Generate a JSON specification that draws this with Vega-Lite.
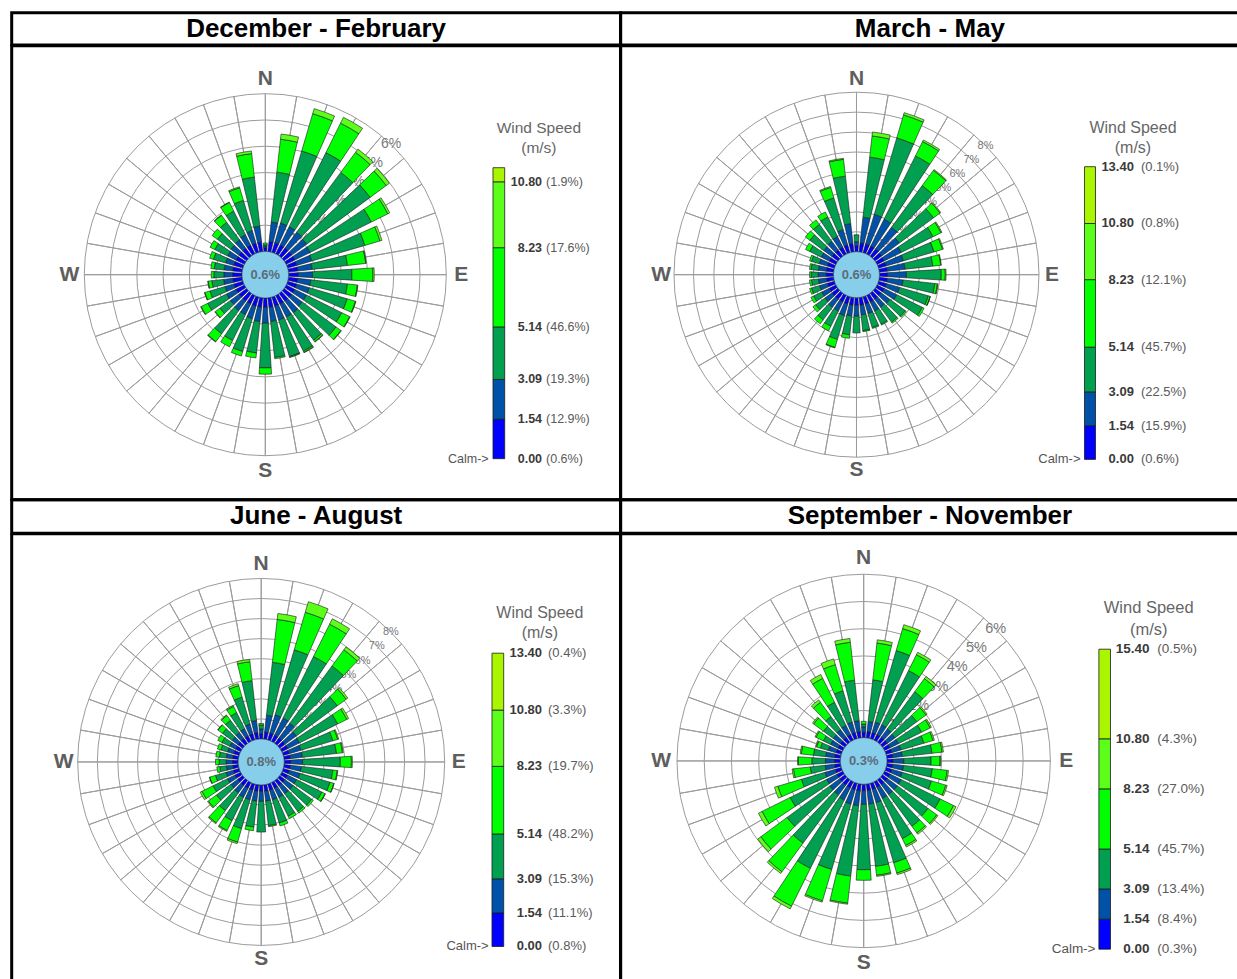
{
"$schema":"https://vega.github.io/schema/vega-lite/v6.json",
"background":"#ffffff",
"padding":{"left":9.7,"top":10.7,"right":0,"bottom":0},
"columns":2,
"align":"each",
"spacing":0,
"bounds":"flush",
"resolve":{"scale":{"radius":"independent","theta":"independent","color":"independent"}},
"config":{"font":"Liberation Sans","view":{"stroke":null},"concat":{"spacing":0}},
"datasets":{
"titles":[{"p":1,"t":"December - February"},{"p":2,"t":"March - May"},{"p":3,"t":"June - August"},{"p":4,"t":"September - November"}],
"calm":[{"p":1,"t":"0.6%"},{"p":2,"t":"0.6%"},{"p":3,"t":"0.8%"},{"p":4,"t":"0.3%"}],
"compass":[{"t":"N","a":0},{"t":"E","a":90},{"t":"S","a":180},{"t":"W","a":270}],
"dirs":[{"d":0},{"d":10},{"d":20},{"d":30},{"d":40},{"d":50},{"d":60},{"d":70},{"d":80},{"d":90},{"d":100},{"d":110},{"d":120},{"d":130},{"d":140},{"d":150},{"d":160},{"d":170},{"d":180},{"d":190},{"d":200},{"d":210},{"d":220},{"d":230},{"d":240},{"d":250},{"d":260},{"d":270},{"d":280},{"d":290},{"d":300},{"d":310},{"d":320},{"d":330},{"d":340},{"d":350}],
"rings":[
{"p":1,"k":1,"t":"1%"},{"p":1,"k":2,"t":"2%"},{"p":1,"k":3,"t":"3%"},{"p":1,"k":4,"t":"4%"},{"p":1,"k":5,"t":"5%"},{"p":1,"k":6,"t":"6%"},
{"p":2,"k":1,"t":"1%"},{"p":2,"k":2,"t":"2%"},{"p":2,"k":3,"t":"3%"},{"p":2,"k":4,"t":"4%"},{"p":2,"k":5,"t":"5%"},{"p":2,"k":6,"t":"6%"},{"p":2,"k":7,"t":"7%"},{"p":2,"k":8,"t":"8%"},
{"p":3,"k":1,"t":"1%"},{"p":3,"k":2,"t":"2%"},{"p":3,"k":3,"t":"3%"},{"p":3,"k":4,"t":"4%"},{"p":3,"k":5,"t":"5%"},{"p":3,"k":6,"t":"6%"},{"p":3,"k":7,"t":"7%"},{"p":3,"k":8,"t":"8%"},
{"p":4,"k":1,"t":"1%"},{"p":4,"k":2,"t":"2%"},{"p":4,"k":3,"t":"3%"},{"p":4,"k":4,"t":"4%"},{"p":4,"k":5,"t":"5%"},{"p":4,"k":6,"t":"6%"}],
"legend":[
{"p":1,"cls":"c0","lo":0,"hi":1.54},{"p":1,"cls":"c1","lo":1.54,"hi":3.09},{"p":1,"cls":"c2","lo":3.09,"hi":5.14},{"p":1,"cls":"c3","lo":5.14,"hi":8.23},{"p":1,"cls":"c4","lo":8.23,"hi":10.8},{"p":1,"cls":"c5","lo":10.8,"hi":11.35},
{"p":2,"cls":"c0","lo":0,"hi":1.54},{"p":2,"cls":"c1","lo":1.54,"hi":3.09},{"p":2,"cls":"c2","lo":3.09,"hi":5.14},{"p":2,"cls":"c3","lo":5.14,"hi":8.23},{"p":2,"cls":"c4","lo":8.23,"hi":10.8},{"p":2,"cls":"c5","lo":10.8,"hi":13.4},
{"p":3,"cls":"c0","lo":0,"hi":1.54},{"p":3,"cls":"c1","lo":1.54,"hi":3.09},{"p":3,"cls":"c2","lo":3.09,"hi":5.14},{"p":3,"cls":"c3","lo":5.14,"hi":8.23},{"p":3,"cls":"c4","lo":8.23,"hi":10.8},{"p":3,"cls":"c5","lo":10.8,"hi":13.4},
{"p":4,"cls":"c0","lo":0,"hi":1.54},{"p":4,"cls":"c1","lo":1.54,"hi":3.09},{"p":4,"cls":"c2","lo":3.09,"hi":5.14},{"p":4,"cls":"c3","lo":5.14,"hi":8.23},{"p":4,"cls":"c4","lo":8.23,"hi":10.8},{"p":4,"cls":"c5","lo":10.8,"hi":15.4}],
"ticks":[
{"p":1,"v":0,"t":"(0.6%)"},{"p":1,"v":1.54,"t":"(12.9%)"},{"p":1,"v":3.09,"t":"(19.3%)"},{"p":1,"v":5.14,"t":"(46.6%)"},{"p":1,"v":8.23,"t":"(17.6%)"},{"p":1,"v":10.8,"t":"(1.9%)"},
{"p":2,"v":0,"t":"(0.6%)"},{"p":2,"v":1.54,"t":"(15.9%)"},{"p":2,"v":3.09,"t":"(22.5%)"},{"p":2,"v":5.14,"t":"(45.7%)"},{"p":2,"v":8.23,"t":"(12.1%)"},{"p":2,"v":10.8,"t":"(0.8%)"},{"p":2,"v":13.4,"t":"(0.1%)"},
{"p":3,"v":0,"t":"(0.8%)"},{"p":3,"v":1.54,"t":"(11.1%)"},{"p":3,"v":3.09,"t":"(15.3%)"},{"p":3,"v":5.14,"t":"(48.2%)"},{"p":3,"v":8.23,"t":"(19.7%)"},{"p":3,"v":10.8,"t":"(3.3%)"},{"p":3,"v":13.4,"t":"(0.4%)"},
{"p":4,"v":0,"t":"(0.3%)"},{"p":4,"v":1.54,"t":"(8.4%)"},{"p":4,"v":3.09,"t":"(13.4%)"},{"p":4,"v":5.14,"t":"(45.7%)"},{"p":4,"v":8.23,"t":"(27.0%)"},{"p":4,"v":10.8,"t":"(4.3%)"},{"p":4,"v":15.4,"t":"(0.5%)"}],
"rose":[
{"p":1,"d":0,"c0":0.14,"c1":0.06,"c2":0.05,"c3":0.07,"c4":0},
{"p":1,"d":10,"c0":0.38,"c1":0.75,"c2":1.91,"c3":1.26,"c4":0.2},
{"p":1,"d":20,"c0":0.38,"c1":0.78,"c2":2.86,"c3":1.48,"c4":0.2},
{"p":1,"d":30,"c0":0.38,"c1":0.77,"c2":3.15,"c3":1.25,"c4":0.25},
{"p":1,"d":40,"c0":0.37,"c1":0.75,"c2":2.83,"c3":0.95,"c4":0.15},
{"p":1,"d":50,"c0":0.37,"c1":0.7,"c2":3.0,"c3":0.76,"c4":0.15},
{"p":1,"d":60,"c0":0.37,"c1":0.65,"c2":2.6,"c3":0.7,"c4":0.08},
{"p":1,"d":70,"c0":0.36,"c1":0.6,"c2":2.1,"c3":0.6,"c4":0.08},
{"p":1,"d":80,"c0":0.36,"c1":0.55,"c2":1.35,"c3":0.7,"c4":0.02},
{"p":1,"d":90,"c0":0.36,"c1":0.55,"c2":1.5,"c3":0.8,"c4":0.05},
{"p":1,"d":100,"c0":0.36,"c1":0.5,"c2":1.4,"c3":0.38,"c4":0.02},
{"p":1,"d":110,"c0":0.36,"c1":0.5,"c2":1.5,"c3":0.33,"c4":0.02},
{"p":1,"d":120,"c0":0.36,"c1":0.5,"c2":1.5,"c3":0.34,"c4":0.02},
{"p":1,"d":130,"c0":0.36,"c1":0.5,"c2":1.6,"c3":0.23,"c4":0.02},
{"p":1,"d":140,"c0":0.36,"c1":0.55,"c2":1.3,"c3":0.07,"c4":0.02},
{"p":1,"d":150,"c0":0.36,"c1":0.55,"c2":1.45,"c3":0.05,"c4":0.02},
{"p":1,"d":160,"c0":0.36,"c1":0.55,"c2":1.45,"c3":0.02,"c4":0.02},
{"p":1,"d":170,"c0":0.36,"c1":0.55,"c2":1.37,"c3":0.05,"c4":0},
{"p":1,"d":180,"c0":0.36,"c1":0.6,"c2":1.7,"c3":0.24,"c4":0},
{"p":1,"d":190,"c0":0.36,"c1":0.55,"c2":1.2,"c3":0.19,"c4":0},
{"p":1,"d":200,"c0":0.36,"c1":0.5,"c2":1.3,"c3":0.18,"c4":0},
{"p":1,"d":210,"c0":0.36,"c1":0.45,"c2":1.1,"c3":0.27,"c4":0},
{"p":1,"d":220,"c0":0.36,"c1":0.45,"c2":1.1,"c3":0.37,"c4":0.02},
{"p":1,"d":230,"c0":0.36,"c1":0.4,"c2":0.5,"c3":0.22,"c4":0.02},
{"p":1,"d":240,"c0":0.36,"c1":0.4,"c2":0.8,"c3":0.28,"c4":0.02},
{"p":1,"d":250,"c0":0.36,"c1":0.35,"c2":0.6,"c3":0.2,"c4":0.02},
{"p":1,"d":260,"c0":0.36,"c1":0.35,"c2":0.45,"c3":0.14,"c4":0.02},
{"p":1,"d":270,"c0":0.36,"c1":0.33,"c2":0.38,"c3":0.1,"c4":0},
{"p":1,"d":280,"c0":0.36,"c1":0.33,"c2":0.38,"c3":0.13,"c4":0},
{"p":1,"d":290,"c0":0.36,"c1":0.33,"c2":0.48,"c3":0.15,"c4":0},
{"p":1,"d":300,"c0":0.36,"c1":0.35,"c2":0.55,"c3":0.2,"c4":0},
{"p":1,"d":310,"c0":0.36,"c1":0.38,"c2":0.64,"c3":0.25,"c4":0},
{"p":1,"d":320,"c0":0.36,"c1":0.4,"c2":0.83,"c3":0.33,"c4":0.02},
{"p":1,"d":330,"c0":0.36,"c1":0.45,"c2":1.0,"c3":0.37,"c4":0.02},
{"p":1,"d":340,"c0":0.36,"c1":0.5,"c2":1.2,"c3":0.5,"c4":0.04},
{"p":1,"d":350,"c0":0.37,"c1":0.6,"c2":1.88,"c3":0.9,"c4":0.1},
{"p":2,"d":0,"c0":0.3,"c1":0.2,"c2":0.35,"c3":0,"c4":0},
{"p":2,"d":10,"c0":0.45,"c1":1.3,"c2":3.03,"c3":1.07,"c4":0.2},
{"p":2,"d":20,"c0":0.45,"c1":1.55,"c2":4.0,"c3":1.2,"c4":0.12},
{"p":2,"d":30,"c0":0.45,"c1":1.5,"c2":3.55,"c3":0.8,"c4":0.09},
{"p":2,"d":40,"c0":0.45,"c1":1.35,"c2":2.6,"c3":0.95,"c4":0.05},
{"p":2,"d":50,"c0":0.42,"c1":1.1,"c2":2.13,"c3":0.4,"c4":0.05},
{"p":2,"d":60,"c0":0.4,"c1":0.95,"c2":1.78,"c3":0.45,"c4":0.05},
{"p":2,"d":70,"c0":0.4,"c1":0.9,"c2":1.6,"c3":0.44,"c4":0.05},
{"p":2,"d":80,"c0":0.4,"c1":0.9,"c2":1.4,"c3":0.4,"c4":0.03},
{"p":2,"d":90,"c0":0.4,"c1":0.95,"c2":1.75,"c3":0.2,"c4":0.04},
{"p":2,"d":100,"c0":0.4,"c1":0.8,"c2":1.6,"c3":0.13,"c4":0.03},
{"p":2,"d":110,"c0":0.4,"c1":0.7,"c2":1.5,"c3":0.1,"c4":0.01},
{"p":2,"d":120,"c0":0.4,"c1":0.7,"c2":1.43,"c3":0.1,"c4":0},
{"p":2,"d":130,"c0":0.38,"c1":0.55,"c2":0.95,"c3":0.07,"c4":0},
{"p":2,"d":140,"c0":0.38,"c1":0.5,"c2":0.92,"c3":0.07,"c4":0},
{"p":2,"d":150,"c0":0.38,"c1":0.5,"c2":0.74,"c3":0.05,"c4":0},
{"p":2,"d":160,"c0":0.38,"c1":0.5,"c2":0.73,"c3":0.05,"c4":0},
{"p":2,"d":170,"c0":0.38,"c1":0.5,"c2":0.79,"c3":0.05,"c4":0},
{"p":2,"d":180,"c0":0.38,"c1":0.55,"c2":0.84,"c3":0,"c4":0},
{"p":2,"d":190,"c0":0.38,"c1":0.55,"c2":0.95,"c3":0.18,"c4":0},
{"p":2,"d":200,"c0":0.38,"c1":0.6,"c2":1.25,"c3":0.42,"c4":0.03},
{"p":2,"d":210,"c0":0.38,"c1":0.5,"c2":0.86,"c3":0.25,"c4":0},
{"p":2,"d":220,"c0":0.38,"c1":0.5,"c2":0.78,"c3":0.25,"c4":0},
{"p":2,"d":230,"c0":0.37,"c1":0.45,"c2":0.57,"c3":0.17,"c4":0},
{"p":2,"d":240,"c0":0.37,"c1":0.42,"c2":0.46,"c3":0.15,"c4":0},
{"p":2,"d":250,"c0":0.37,"c1":0.4,"c2":0.43,"c3":0.1,"c4":0},
{"p":2,"d":260,"c0":0.37,"c1":0.4,"c2":0.35,"c3":0.1,"c4":0},
{"p":2,"d":270,"c0":0.37,"c1":0.4,"c2":0.35,"c3":0.08,"c4":0},
{"p":2,"d":280,"c0":0.37,"c1":0.4,"c2":0.37,"c3":0.08,"c4":0},
{"p":2,"d":290,"c0":0.37,"c1":0.42,"c2":0.41,"c3":0.1,"c4":0},
{"p":2,"d":300,"c0":0.37,"c1":0.45,"c2":0.65,"c3":0.23,"c4":0},
{"p":2,"d":310,"c0":0.38,"c1":0.5,"c2":0.87,"c3":0.28,"c4":0},
{"p":2,"d":320,"c0":0.38,"c1":0.55,"c2":1.05,"c3":0.28,"c4":0},
{"p":2,"d":330,"c0":0.38,"c1":0.6,"c2":1.1,"c3":0.28,"c4":0},
{"p":2,"d":340,"c0":0.4,"c1":0.8,"c2":1.66,"c3":0.55,"c4":0.05},
{"p":2,"d":350,"c0":0.42,"c1":1.0,"c2":2.4,"c3":0.85,"c4":0.05},
{"p":3,"d":0,"c0":0.25,"c1":0.25,"c2":0.2,"c3":0.07,"c4":0},
{"p":3,"d":10,"c0":0.35,"c1":0.85,"c2":2.65,"c3":2.15,"c4":0.3},
{"p":3,"d":20,"c0":0.35,"c1":0.95,"c2":3.38,"c3":1.95,"c4":0.55},
{"p":3,"d":30,"c0":0.35,"c1":0.95,"c2":3.42,"c3":1.8,"c4":0.3},
{"p":3,"d":40,"c0":0.35,"c1":0.9,"c2":3.55,"c3":1.0,"c4":0.18},
{"p":3,"d":50,"c0":0.33,"c1":0.7,"c2":2.54,"c3":0.55,"c4":0.1},
{"p":3,"d":60,"c0":0.33,"c1":0.65,"c2":2.13,"c3":0.51,"c4":0.1},
{"p":3,"d":70,"c0":0.32,"c1":0.6,"c2":1.66,"c3":0.25,"c4":0.05},
{"p":3,"d":80,"c0":0.32,"c1":0.6,"c2":1.71,"c3":0.3,"c4":0.04},
{"p":3,"d":90,"c0":0.32,"c1":0.6,"c2":1.88,"c3":0.55,"c4":0.05},
{"p":3,"d":100,"c0":0.32,"c1":0.55,"c2":1.58,"c3":0.22,"c4":0.03},
{"p":3,"d":110,"c0":0.32,"c1":0.55,"c2":1.56,"c3":0.2,"c4":0.02},
{"p":3,"d":120,"c0":0.32,"c1":0.5,"c2":1.41,"c3":0.18,"c4":0.02},
{"p":3,"d":130,"c0":0.32,"c1":0.5,"c2":1.16,"c3":0.1,"c4":0},
{"p":3,"d":140,"c0":0.32,"c1":0.5,"c2":1.1,"c3":0.1,"c4":0},
{"p":3,"d":150,"c0":0.32,"c1":0.5,"c2":1.05,"c3":0.13,"c4":0},
{"p":3,"d":160,"c0":0.32,"c1":0.5,"c2":1.2,"c3":0.16,"c4":0},
{"p":3,"d":170,"c0":0.32,"c1":0.5,"c2":1.23,"c3":0.05,"c4":0},
{"p":3,"d":180,"c0":0.32,"c1":0.5,"c2":1.53,"c3":0,"c4":0},
{"p":3,"d":190,"c0":0.32,"c1":0.5,"c2":1.3,"c3":0.18,"c4":0},
{"p":3,"d":200,"c0":0.32,"c1":0.5,"c2":1.5,"c3":0.7,"c4":0.08},
{"p":3,"d":210,"c0":0.32,"c1":0.5,"c2":1.3,"c3":0.55,"c4":0.05},
{"p":3,"d":220,"c0":0.32,"c1":0.45,"c2":1.1,"c3":0.76,"c4":0.05},
{"p":3,"d":230,"c0":0.31,"c1":0.42,"c2":0.9,"c3":0.5,"c4":0.05},
{"p":3,"d":240,"c0":0.31,"c1":0.42,"c2":0.8,"c3":0.62,"c4":0.1},
{"p":3,"d":250,"c0":0.3,"c1":0.38,"c2":0.55,"c3":0.3,"c4":0.02},
{"p":3,"d":260,"c0":0.28,"c1":0.32,"c2":0.33,"c3":0.15,"c4":0},
{"p":3,"d":270,"c0":0.28,"c1":0.32,"c2":0.35,"c3":0.18,"c4":0},
{"p":3,"d":280,"c0":0.28,"c1":0.32,"c2":0.35,"c3":0.18,"c4":0},
{"p":3,"d":290,"c0":0.28,"c1":0.32,"c2":0.35,"c3":0.18,"c4":0},
{"p":3,"d":300,"c0":0.28,"c1":0.33,"c2":0.43,"c3":0.23,"c4":0},
{"p":3,"d":310,"c0":0.3,"c1":0.35,"c2":0.6,"c3":0.28,"c4":0.02},
{"p":3,"d":320,"c0":0.3,"c1":0.38,"c2":0.75,"c3":0.3,"c4":0.04},
{"p":3,"d":330,"c0":0.3,"c1":0.4,"c2":0.9,"c3":0.35,"c4":0.05},
{"p":3,"d":340,"c0":0.32,"c1":0.5,"c2":1.4,"c3":0.6,"c4":0.1},
{"p":3,"d":350,"c0":0.33,"c1":0.6,"c2":2.0,"c3":0.95,"c4":0.12},
{"p":4,"d":0,"c0":0.2,"c1":0.2,"c2":0.1,"c3":0.1,"c4":0},
{"p":4,"d":10,"c0":0.23,"c1":0.37,"c2":1.54,"c3":1.36,"c4":0.12},
{"p":4,"d":20,"c0":0.23,"c1":0.4,"c2":2.74,"c3":0.84,"c4":0.15},
{"p":4,"d":30,"c0":0.23,"c1":0.4,"c2":2.22,"c3":0.65,"c4":0.1},
{"p":4,"d":40,"c0":0.23,"c1":0.37,"c2":1.7,"c3":0.6,"c4":0.1},
{"p":4,"d":50,"c0":0.22,"c1":0.35,"c2":1.0,"c3":0.42,"c4":0.05},
{"p":4,"d":60,"c0":0.22,"c1":0.35,"c2":0.95,"c3":0.35,"c4":0.05},
{"p":4,"d":70,"c0":0.22,"c1":0.35,"c2":0.88,"c3":0.35,"c4":0.05},
{"p":4,"d":80,"c0":0.22,"c1":0.35,"c2":1.1,"c3":0.37,"c4":0.05},
{"p":4,"d":90,"c0":0.22,"c1":0.4,"c2":1.0,"c3":0.33,"c4":0.03},
{"p":4,"d":100,"c0":0.22,"c1":0.4,"c2":1.06,"c3":0.55,"c4":0.05},
{"p":4,"d":110,"c0":0.22,"c1":0.4,"c2":1.12,"c3":0.55,"c4":0.05},
{"p":4,"d":120,"c0":0.23,"c1":0.45,"c2":1.6,"c3":0.55,"c4":0.1},
{"p":4,"d":130,"c0":0.23,"c1":0.45,"c2":1.4,"c3":0.4,"c4":0.05},
{"p":4,"d":140,"c0":0.23,"c1":0.45,"c2":1.45,"c3":0.3,"c4":0.06},
{"p":4,"d":150,"c0":0.23,"c1":0.45,"c2":1.65,"c3":0.28,"c4":0.06},
{"p":4,"d":160,"c0":0.24,"c1":0.5,"c2":2.3,"c3":0.4,"c4":0.06},
{"p":4,"d":170,"c0":0.24,"c1":0.5,"c2":2.3,"c3":0.33,"c4":0.04},
{"p":4,"d":180,"c0":0.24,"c1":0.5,"c2":2.4,"c3":0.39,"c4":0},
{"p":4,"d":190,"c0":0.25,"c1":0.55,"c2":2.6,"c3":1.0,"c4":0.04},
{"p":4,"d":200,"c0":0.25,"c1":0.55,"c2":2.5,"c3":1.2,"c4":0.05},
{"p":4,"d":210,"c0":0.25,"c1":0.5,"c2":2.8,"c3":1.55,"c4":0.11},
{"p":4,"d":220,"c0":0.25,"c1":0.45,"c2":2.2,"c3":1.3,"c4":0.08},
{"p":4,"d":230,"c0":0.24,"c1":0.45,"c2":1.95,"c3":1.2,"c4":0.14},
{"p":4,"d":240,"c0":0.24,"c1":0.42,"c2":1.5,"c3":1.15,"c4":0.15},
{"p":4,"d":250,"c0":0.23,"c1":0.4,"c2":0.9,"c3":0.9,"c4":0.13},
{"p":4,"d":260,"c0":0.22,"c1":0.35,"c2":0.55,"c3":0.62,"c4":0.05},
{"p":4,"d":270,"c0":0.22,"c1":0.33,"c2":0.5,"c3":0.5,"c4":0.02},
{"p":4,"d":280,"c0":0.22,"c1":0.33,"c2":0.45,"c3":0.45,"c4":0.04},
{"p":4,"d":290,"c0":0.2,"c1":0.3,"c2":0.3,"c3":0.15,"c4":0.03},
{"p":4,"d":300,"c0":0.2,"c1":0.3,"c2":0.3,"c3":0.3,"c4":0.04},
{"p":4,"d":310,"c0":0.21,"c1":0.32,"c2":0.45,"c3":0.45,"c4":0.05},
{"p":4,"d":320,"c0":0.22,"c1":0.35,"c2":0.6,"c3":0.65,"c4":0.11},
{"p":4,"d":330,"c0":0.22,"c1":0.38,"c2":0.95,"c3":0.98,"c4":0.16},
{"p":4,"d":340,"c0":0.23,"c1":0.4,"c2":1.2,"c3":1.0,"c4":0.22},
{"p":4,"d":350,"c0":0.23,"c1":0.4,"c2":1.5,"c3":1.4,"c4":0.14}]
},
"concat":[
 {"width":608.8,"height":32.3,"view":{"stroke":"#000000","strokeWidth":3},"data":{"name":"titles"},"transform":[{"filter":"datum.p == 1"}],"mark":{"type":"text","fontSize":26,"fontWeight":"bold","color":"#000000","dy":0},"encoding":{"text":{"field":"t","type":"nominal"}}},
 {"width":618.5,"height":32.3,"view":{"stroke":"#000000","strokeWidth":3,"strokeDash":[618.5,32.3,650.8,0]},"data":{"name":"titles"},"transform":[{"filter":"datum.p == 2"}],"mark":{"type":"text","fontSize":26,"fontWeight":"bold","color":"#000000","dy":0},"encoding":{"text":{"field":"t","type":"nominal"}}},
 {"width":608.8,"height":454,"view":{"stroke":"#000000","strokeWidth":3},
  "layer":[
   {"data":{"name":"rings"},"transform":[{"filter":"datum.p == 1"}],"mark":{"type":"arc","filled":false,"color":"#9b9b9b","strokeWidth":1,"xOffset":-50.8,"yOffset":2},
    "encoding":{"theta":{"datum":0,"type":"quantitative","scale":{"type":"linear","domain":[0,360],"range":[0,6.283185307179586]}},"theta2":{"datum":360},"radius":{"field":"k","type":"quantitative","stack":null,"scale":{"type":"linear","domain":[0,6],"range":[23.3,181],"zero":false}}}},
   {"data":{"name":"dirs"},"mark":{"type":"arc","filled":false,"color":"#9b9b9b","strokeWidth":1,"xOffset":-50.8,"yOffset":2},
    "encoding":{"theta":{"field":"d","type":"quantitative","stack":null,"scale":{"type":"linear","domain":[0,360],"range":[0,6.283185307179586]}},"theta2":{"field":"d"},"radius":{"datum":6,"type":"quantitative","scale":{"type":"linear","domain":[0,6],"range":[23.3,181],"zero":false}},"radius2":{"datum":0}}},
   {"data":{"name":"rings"},"transform":[{"filter":"datum.p == 1"}],"mark":{"type":"text","fontSize":14,"color":"#7a7a7a","xOffset":-50.8,"yOffset":2},
    "encoding":{"theta":{"datum":44,"type":"quantitative","scale":{"type":"linear","domain":[0,360],"range":[0,6.283185307179586]}},"radius":{"field":"k","type":"quantitative","stack":null,"scale":{"type":"linear","domain":[0,6],"range":[23.3,181],"zero":false}},"text":{"field":"t","type":"nominal"}}},
   {"data":{"name":"rose"},"transform":[{"filter":"datum.p == 1"},{"fold":["c0","c1","c2","c3","c4"],"as":["cls","v"]},{"filter":"datum.v > 0"},{"stack":"v","groupby":["d"],"sort":[{"field":"cls","order":"ascending"}],"as":["r0","r1"]}],
    "mark":{"type":"arc","stroke":"#1a1a1a","strokeWidth":0.6,"thetaOffset":-0.0628,"theta2Offset":0.0628,"xOffset":-50.8,"yOffset":2},
    "encoding":{"theta":{"field":"d","type":"quantitative","stack":null,"scale":{"type":"linear","domain":[0,360],"range":[0,6.283185307179586]}},"theta2":{"field":"d"},"radius":{"field":"r1","type":"quantitative","stack":null,"scale":{"type":"linear","domain":[0,6],"range":[23.3,181],"zero":false}},"radius2":{"field":"r0"},
     "color":{"field":"cls","type":"nominal","legend":null,"scale":{"domain":["c0","c1","c2","c3","c4","c5"],"range":["#0000ff","#0052a8","#00a050","#00ff00","#5cff1a","#aaf500"]}}}},
   {"data":{"name":"calm"},"transform":[{"filter":"datum.p == 1"}],"mark":{"type":"arc","filled":true,"fill":"#87ceeb","fillOpacity":1,"stroke":"#2c4a6e","strokeWidth":0.6,"xOffset":-50.8,"yOffset":2},
    "encoding":{"theta":{"datum":0,"type":"quantitative","scale":{"type":"linear","domain":[0,360],"range":[0,6.283185307179586]}},"theta2":{"datum":360},"radius":{"datum":0,"type":"quantitative","scale":{"type":"linear","domain":[0,6],"range":[23.3,181],"zero":false}},"radius2":{"value":0}}},
   {"data":{"name":"calm"},"transform":[{"filter":"datum.p == 1"}],"mark":{"type":"text","fontSize":13,"fontWeight":"bold","color":"#5c6b7a","xOffset":-50.8,"yOffset":2},"encoding":{"text":{"field":"t","type":"nominal"}}},
   {"data":{"name":"compass"},"mark":{"type":"text","fontSize":21,"fontWeight":"bold","color":"#5e5e5e","xOffset":-50.8,"yOffset":2},
    "encoding":{"theta":{"field":"a","type":"quantitative","stack":null,"scale":{"type":"linear","domain":[0,360],"range":[0,6.283185307179586]}},"radius":{"datum":6.57,"type":"quantitative","scale":{"type":"linear","domain":[0,6],"range":[23.3,181],"zero":false}},"text":{"field":"t","type":"nominal"}}},
   {"data":{"name":"legend"},"transform":[{"filter":"datum.p == 1"}],"mark":{"type":"rect","stroke":"#1a1a1a","strokeWidth":0.8},
    "encoding":{"x":{"datum":"key","type":"nominal","axis":null,"scale":{"type":"band","domain":["key"],"range":[481.3,493],"paddingInner":0,"paddingOuter":0}},"y":{"field":"lo","type":"quantitative","axis":null,"scale":{"domain":[0,11.35],"range":[413,122],"zero":false}},"y2":{"field":"hi"},
     "color":{"field":"cls","type":"nominal","legend":null,"scale":{"domain":["c0","c1","c2","c3","c4","c5"],"range":["#0000ff","#0052a8","#00a050","#00ff00","#5cff1a","#aaf500"]}}}},
   {"data":{"name":"ticks"},"transform":[{"filter":"datum.p == 1"}],"mark":{"type":"text","align":"right","fontSize":12.5,"fontWeight":"bold","color":"#3a3a3a","dx":43.2},
    "encoding":{"x":{"datum":"key","type":"nominal","axis":null,"scale":{"type":"band","domain":["key"],"range":[481.3,493],"paddingInner":0,"paddingOuter":0}},"y":{"field":"v","type":"quantitative","axis":null,"scale":{"domain":[0,11.35],"range":[413,122],"zero":false}},"text":{"field":"v","type":"quantitative","format":".2f"}}},
   {"data":{"name":"ticks"},"transform":[{"filter":"datum.p == 1"}],"mark":{"type":"text","align":"left","fontSize":12.5,"color":"#5a5a5a","dx":47.2},
    "encoding":{"x":{"datum":"key","type":"nominal","axis":null,"scale":{"type":"band","domain":["key"],"range":[481.3,493],"paddingInner":0,"paddingOuter":0}},"y":{"field":"v","type":"quantitative","axis":null,"scale":{"domain":[0,11.35],"range":[413,122],"zero":false}},"text":{"field":"t","type":"nominal"}}},
   {"data":{"name":"calm"},"transform":[{"filter":"datum.p == 1"}],"mark":{"type":"text","align":"right","fontSize":12.5,"color":"#555555","dx":-10.2},
    "encoding":{"x":{"datum":"key","type":"nominal","axis":null,"scale":{"type":"band","domain":["key"],"range":[481.3,493],"paddingInner":0,"paddingOuter":0}},"y":{"datum":0,"type":"quantitative","axis":null,"scale":{"domain":[0,11.35],"range":[413,122],"zero":false}},"text":{"value":"Calm->"}}},
   {"data":{"name":"calm"},"transform":[{"filter":"datum.p == 1"}],"mark":{"type":"text","align":"center","fontSize":15.5,"color":"#666666","lineHeight":20,"dx":40,"dy":-40},
    "encoding":{"x":{"datum":"key","type":"nominal","axis":null,"scale":{"type":"band","domain":["key"],"range":[481.3,493],"paddingInner":0,"paddingOuter":0}},"y":{"datum":11.35,"type":"quantitative","axis":null,"scale":{"domain":[0,11.35],"range":[413,122],"zero":false}},"text":{"value":["Wind Speed","(m/s)"]}}}
  ]},
 {"width":618.5,"height":454,"view":{"stroke":"#000000","strokeWidth":3,"strokeDash":[618.5,454,1072.5,0]},
  "layer":[
   {"data":{"name":"rings"},"transform":[{"filter":"datum.p == 2"}],"mark":{"type":"arc","filled":false,"color":"#9b9b9b","strokeWidth":1,"xOffset":-73.45,"yOffset":2},
    "encoding":{"theta":{"datum":0,"type":"quantitative","scale":{"type":"linear","domain":[0,360],"range":[0,6.283185307179586]}},"theta2":{"datum":360},"radius":{"field":"k","type":"quantitative","stack":null,"scale":{"type":"linear","domain":[0,8],"range":[23,182.5],"zero":false}}}},
   {"data":{"name":"dirs"},"mark":{"type":"arc","filled":false,"color":"#9b9b9b","strokeWidth":1,"xOffset":-73.45,"yOffset":2},
    "encoding":{"theta":{"field":"d","type":"quantitative","stack":null,"scale":{"type":"linear","domain":[0,360],"range":[0,6.283185307179586]}},"theta2":{"field":"d"},"radius":{"datum":8,"type":"quantitative","scale":{"type":"linear","domain":[0,8],"range":[23,182.5],"zero":false}},"radius2":{"datum":0}}},
   {"data":{"name":"rings"},"transform":[{"filter":"datum.p == 2"}],"mark":{"type":"text","fontSize":11,"color":"#7a7a7a","xOffset":-73.45,"yOffset":2},
    "encoding":{"theta":{"datum":45,"type":"quantitative","scale":{"type":"linear","domain":[0,360],"range":[0,6.283185307179586]}},"radius":{"field":"k","type":"quantitative","stack":null,"scale":{"type":"linear","domain":[0,8],"range":[23,182.5],"zero":false}},"text":{"field":"t","type":"nominal"}}},
   {"data":{"name":"rose"},"transform":[{"filter":"datum.p == 2"},{"fold":["c0","c1","c2","c3","c4"],"as":["cls","v"]},{"filter":"datum.v > 0"},{"stack":"v","groupby":["d"],"sort":[{"field":"cls","order":"ascending"}],"as":["r0","r1"]}],
    "mark":{"type":"arc","stroke":"#1a1a1a","strokeWidth":0.6,"thetaOffset":-0.0628,"theta2Offset":0.0628,"xOffset":-73.45,"yOffset":2},
    "encoding":{"theta":{"field":"d","type":"quantitative","stack":null,"scale":{"type":"linear","domain":[0,360],"range":[0,6.283185307179586]}},"theta2":{"field":"d"},"radius":{"field":"r1","type":"quantitative","stack":null,"scale":{"type":"linear","domain":[0,8],"range":[23,182.5],"zero":false}},"radius2":{"field":"r0"},
     "color":{"field":"cls","type":"nominal","legend":null,"scale":{"domain":["c0","c1","c2","c3","c4","c5"],"range":["#0000ff","#0052a8","#00a050","#00ff00","#5cff1a","#aaf500"]}}}},
   {"data":{"name":"calm"},"transform":[{"filter":"datum.p == 2"}],"mark":{"type":"arc","filled":true,"fill":"#87ceeb","fillOpacity":1,"stroke":"#2c4a6e","strokeWidth":0.6,"xOffset":-73.45,"yOffset":2},
    "encoding":{"theta":{"datum":0,"type":"quantitative","scale":{"type":"linear","domain":[0,360],"range":[0,6.283185307179586]}},"theta2":{"datum":360},"radius":{"datum":0,"type":"quantitative","scale":{"type":"linear","domain":[0,8],"range":[23,182.5],"zero":false}},"radius2":{"value":0}}},
   {"data":{"name":"calm"},"transform":[{"filter":"datum.p == 2"}],"mark":{"type":"text","fontSize":13,"fontWeight":"bold","color":"#5c6b7a","xOffset":-73.45,"yOffset":2},"encoding":{"text":{"field":"t","type":"nominal"}}},
   {"data":{"name":"compass"},"mark":{"type":"text","fontSize":21,"fontWeight":"bold","color":"#5e5e5e","xOffset":-73.45,"yOffset":2},
    "encoding":{"theta":{"field":"a","type":"quantitative","stack":null,"scale":{"type":"linear","domain":[0,360],"range":[0,6.283185307179586]}},"radius":{"datum":8.65,"type":"quantitative","scale":{"type":"linear","domain":[0,8],"range":[23,182.5],"zero":false}},"text":{"field":"t","type":"nominal"}}},
   {"data":{"name":"legend"},"transform":[{"filter":"datum.p == 2"}],"mark":{"type":"rect","stroke":"#1a1a1a","strokeWidth":0.8},
    "encoding":{"x":{"datum":"key","type":"nominal","axis":null,"scale":{"type":"band","domain":["key"],"range":[463.8,474.8],"paddingInner":0,"paddingOuter":0}},"y":{"field":"lo","type":"quantitative","axis":null,"scale":{"domain":[0,13.4],"range":[413.7,121],"zero":false}},"y2":{"field":"hi"},
     "color":{"field":"cls","type":"nominal","legend":null,"scale":{"domain":["c0","c1","c2","c3","c4","c5"],"range":["#0000ff","#0052a8","#00a050","#00ff00","#5cff1a","#aaf500"]}}}},
   {"data":{"name":"ticks"},"transform":[{"filter":"datum.p == 2"}],"mark":{"type":"text","align":"right","fontSize":13,"fontWeight":"bold","color":"#3a3a3a","dx":43.9},
    "encoding":{"x":{"datum":"key","type":"nominal","axis":null,"scale":{"type":"band","domain":["key"],"range":[463.8,474.8],"paddingInner":0,"paddingOuter":0}},"y":{"field":"v","type":"quantitative","axis":null,"scale":{"domain":[0,13.4],"range":[413.7,121],"zero":false}},"text":{"field":"v","type":"quantitative","format":".2f"}}},
   {"data":{"name":"ticks"},"transform":[{"filter":"datum.p == 2"}],"mark":{"type":"text","align":"left","fontSize":13,"color":"#5a5a5a","dx":50.9},
    "encoding":{"x":{"datum":"key","type":"nominal","axis":null,"scale":{"type":"band","domain":["key"],"range":[463.8,474.8],"paddingInner":0,"paddingOuter":0}},"y":{"field":"v","type":"quantitative","axis":null,"scale":{"domain":[0,13.4],"range":[413.7,121],"zero":false}},"text":{"field":"t","type":"nominal"}}},
   {"data":{"name":"calm"},"transform":[{"filter":"datum.p == 2"}],"mark":{"type":"text","align":"right","fontSize":13,"color":"#555555","dx":-9.5},
    "encoding":{"x":{"datum":"key","type":"nominal","axis":null,"scale":{"type":"band","domain":["key"],"range":[463.8,474.8],"paddingInner":0,"paddingOuter":0}},"y":{"datum":0,"type":"quantitative","axis":null,"scale":{"domain":[0,13.4],"range":[413.7,121],"zero":false}},"text":{"value":"Calm->"}}},
   {"data":{"name":"calm"},"transform":[{"filter":"datum.p == 2"}],"mark":{"type":"text","align":"center","fontSize":16,"color":"#666666","lineHeight":20,"dx":43,"dy":-39},
    "encoding":{"x":{"datum":"key","type":"nominal","axis":null,"scale":{"type":"band","domain":["key"],"range":[463.8,474.8],"paddingInner":0,"paddingOuter":0}},"y":{"datum":13.4,"type":"quantitative","axis":null,"scale":{"domain":[0,13.4],"range":[413.7,121],"zero":false}},"text":{"value":["Wind Speed","(m/s)"]}}}
  ]},
 {"width":608.8,"height":33.5,"view":{"stroke":"#000000","strokeWidth":3},"data":{"name":"titles"},"transform":[{"filter":"datum.p == 3"}],"mark":{"type":"text","fontSize":26,"fontWeight":"bold","color":"#000000","dy":0},"encoding":{"text":{"field":"t","type":"nominal"}}},
 {"width":618.5,"height":33.5,"view":{"stroke":"#000000","strokeWidth":3,"strokeDash":[618.5,33.5,652,0]},"data":{"name":"titles"},"transform":[{"filter":"datum.p == 4"}],"mark":{"type":"text","fontSize":26,"fontWeight":"bold","color":"#000000","dy":0},"encoding":{"text":{"field":"t","type":"nominal"}}},
 {"width":608.8,"height":448.5,"view":{"stroke":"#000000","strokeWidth":3,"strokeDash":[1057.3,608.8,448.5,0]},
  "layer":[
   {"data":{"name":"rings"},"transform":[{"filter":"datum.p == 3"}],"mark":{"type":"arc","filled":false,"color":"#9b9b9b","strokeWidth":1,"xOffset":-54.9,"yOffset":4},
    "encoding":{"theta":{"datum":0,"type":"quantitative","scale":{"type":"linear","domain":[0,360],"range":[0,6.283185307179586]}},"theta2":{"datum":360},"radius":{"field":"k","type":"quantitative","stack":null,"scale":{"type":"linear","domain":[0,8],"range":[23,183.5],"zero":false}}}},
   {"data":{"name":"dirs"},"mark":{"type":"arc","filled":false,"color":"#9b9b9b","strokeWidth":1,"xOffset":-54.9,"yOffset":4},
    "encoding":{"theta":{"field":"d","type":"quantitative","stack":null,"scale":{"type":"linear","domain":[0,360],"range":[0,6.283185307179586]}},"theta2":{"field":"d"},"radius":{"datum":8,"type":"quantitative","scale":{"type":"linear","domain":[0,8],"range":[23,183.5],"zero":false}},"radius2":{"datum":0}}},
   {"data":{"name":"rings"},"transform":[{"filter":"datum.p == 3"}],"mark":{"type":"text","fontSize":11,"color":"#7a7a7a","xOffset":-54.9,"yOffset":4},
    "encoding":{"theta":{"datum":45,"type":"quantitative","scale":{"type":"linear","domain":[0,360],"range":[0,6.283185307179586]}},"radius":{"field":"k","type":"quantitative","stack":null,"scale":{"type":"linear","domain":[0,8],"range":[23,183.5],"zero":false}},"text":{"field":"t","type":"nominal"}}},
   {"data":{"name":"rose"},"transform":[{"filter":"datum.p == 3"},{"fold":["c0","c1","c2","c3","c4"],"as":["cls","v"]},{"filter":"datum.v > 0"},{"stack":"v","groupby":["d"],"sort":[{"field":"cls","order":"ascending"}],"as":["r0","r1"]}],
    "mark":{"type":"arc","stroke":"#1a1a1a","strokeWidth":0.6,"thetaOffset":-0.0628,"theta2Offset":0.0628,"xOffset":-54.9,"yOffset":4},
    "encoding":{"theta":{"field":"d","type":"quantitative","stack":null,"scale":{"type":"linear","domain":[0,360],"range":[0,6.283185307179586]}},"theta2":{"field":"d"},"radius":{"field":"r1","type":"quantitative","stack":null,"scale":{"type":"linear","domain":[0,8],"range":[23,183.5],"zero":false}},"radius2":{"field":"r0"},
     "color":{"field":"cls","type":"nominal","legend":null,"scale":{"domain":["c0","c1","c2","c3","c4","c5"],"range":["#0000ff","#0052a8","#00a050","#00ff00","#5cff1a","#aaf500"]}}}},
   {"data":{"name":"calm"},"transform":[{"filter":"datum.p == 3"}],"mark":{"type":"arc","filled":true,"fill":"#87ceeb","fillOpacity":1,"stroke":"#2c4a6e","strokeWidth":0.6,"xOffset":-54.9,"yOffset":4},
    "encoding":{"theta":{"datum":0,"type":"quantitative","scale":{"type":"linear","domain":[0,360],"range":[0,6.283185307179586]}},"theta2":{"datum":360},"radius":{"datum":0,"type":"quantitative","scale":{"type":"linear","domain":[0,8],"range":[23,183.5],"zero":false}},"radius2":{"value":0}}},
   {"data":{"name":"calm"},"transform":[{"filter":"datum.p == 3"}],"mark":{"type":"text","fontSize":13,"fontWeight":"bold","color":"#5c6b7a","xOffset":-54.9,"yOffset":4},"encoding":{"text":{"field":"t","type":"nominal"}}},
   {"data":{"name":"compass"},"mark":{"type":"text","fontSize":21,"fontWeight":"bold","color":"#5e5e5e","xOffset":-54.9,"yOffset":4},
    "encoding":{"theta":{"field":"a","type":"quantitative","stack":null,"scale":{"type":"linear","domain":[0,360],"range":[0,6.283185307179586]}},"radius":{"datum":8.7,"type":"quantitative","scale":{"type":"linear","domain":[0,8],"range":[23,183.5],"zero":false}},"text":{"field":"t","type":"nominal"}}},
   {"data":{"name":"legend"},"transform":[{"filter":"datum.p == 3"}],"mark":{"type":"rect","stroke":"#1a1a1a","strokeWidth":0.8},
    "encoding":{"x":{"datum":"key","type":"nominal","axis":null,"scale":{"type":"band","domain":["key"],"range":[480.3,492],"paddingInner":0,"paddingOuter":0}},"y":{"field":"lo","type":"quantitative","axis":null,"scale":{"domain":[0,13.4],"range":[412.8,119.5],"zero":false}},"y2":{"field":"hi"},
     "color":{"field":"cls","type":"nominal","legend":null,"scale":{"domain":["c0","c1","c2","c3","c4","c5"],"range":["#0000ff","#0052a8","#00a050","#00ff00","#5cff1a","#aaf500"]}}}},
   {"data":{"name":"ticks"},"transform":[{"filter":"datum.p == 3"}],"mark":{"type":"text","align":"right","fontSize":13,"fontWeight":"bold","color":"#3a3a3a","dx":44.2},
    "encoding":{"x":{"datum":"key","type":"nominal","axis":null,"scale":{"type":"band","domain":["key"],"range":[480.3,492],"paddingInner":0,"paddingOuter":0}},"y":{"field":"v","type":"quantitative","axis":null,"scale":{"domain":[0,13.4],"range":[412.8,119.5],"zero":false}},"text":{"field":"v","type":"quantitative","format":".2f"}}},
   {"data":{"name":"ticks"},"transform":[{"filter":"datum.p == 3"}],"mark":{"type":"text","align":"left","fontSize":13,"color":"#5a5a5a","dx":50.2},
    "encoding":{"x":{"datum":"key","type":"nominal","axis":null,"scale":{"type":"band","domain":["key"],"range":[480.3,492],"paddingInner":0,"paddingOuter":0}},"y":{"field":"v","type":"quantitative","axis":null,"scale":{"domain":[0,13.4],"range":[412.8,119.5],"zero":false}},"text":{"field":"t","type":"nominal"}}},
   {"data":{"name":"calm"},"transform":[{"filter":"datum.p == 3"}],"mark":{"type":"text","align":"right","fontSize":13,"color":"#555555","dx":-9.2},
    "encoding":{"x":{"datum":"key","type":"nominal","axis":null,"scale":{"type":"band","domain":["key"],"range":[480.3,492],"paddingInner":0,"paddingOuter":0}},"y":{"datum":0,"type":"quantitative","axis":null,"scale":{"domain":[0,13.4],"range":[412.8,119.5],"zero":false}},"text":{"value":"Calm->"}}},
   {"data":{"name":"calm"},"transform":[{"filter":"datum.p == 3"}],"mark":{"type":"text","align":"center","fontSize":16,"color":"#666666","lineHeight":20,"dx":42,"dy":-40},
    "encoding":{"x":{"datum":"key","type":"nominal","axis":null,"scale":{"type":"band","domain":["key"],"range":[480.3,492],"paddingInner":0,"paddingOuter":0}},"y":{"datum":13.4,"type":"quantitative","axis":null,"scale":{"domain":[0,13.4],"range":[412.8,119.5],"zero":false}},"text":{"value":["Wind Speed","(m/s)"]}}}
  ]},
 {"width":618.5,"height":448.5,"view":{"stroke":"#000000","strokeWidth":3,"strokeDash":[618.5,1067,448.5,0]},
  "layer":[
   {"data":{"name":"rings"},"transform":[{"filter":"datum.p == 4"}],"mark":{"type":"arc","filled":false,"color":"#9b9b9b","strokeWidth":1,"xOffset":-66.25,"yOffset":3},
    "encoding":{"theta":{"datum":0,"type":"quantitative","scale":{"type":"linear","domain":[0,360],"range":[0,6.283185307179586]}},"theta2":{"datum":360},"radius":{"field":"k","type":"quantitative","stack":null,"scale":{"type":"linear","domain":[0,6],"range":[23.3,186.7],"zero":false}}}},
   {"data":{"name":"dirs"},"mark":{"type":"arc","filled":false,"color":"#9b9b9b","strokeWidth":1,"xOffset":-66.25,"yOffset":3},
    "encoding":{"theta":{"field":"d","type":"quantitative","stack":null,"scale":{"type":"linear","domain":[0,360],"range":[0,6.283185307179586]}},"theta2":{"field":"d"},"radius":{"datum":6,"type":"quantitative","scale":{"type":"linear","domain":[0,6],"range":[23.3,186.7],"zero":false}},"radius2":{"datum":0}}},
   {"data":{"name":"rings"},"transform":[{"filter":"datum.p == 4"}],"mark":{"type":"text","fontSize":14.5,"color":"#7a7a7a","xOffset":-66.25,"yOffset":3},
    "encoding":{"theta":{"datum":45,"type":"quantitative","scale":{"type":"linear","domain":[0,360],"range":[0,6.283185307179586]}},"radius":{"field":"k","type":"quantitative","stack":null,"scale":{"type":"linear","domain":[0,6],"range":[23.3,186.7],"zero":false}},"text":{"field":"t","type":"nominal"}}},
   {"data":{"name":"rose"},"transform":[{"filter":"datum.p == 4"},{"fold":["c0","c1","c2","c3","c4"],"as":["cls","v"]},{"filter":"datum.v > 0"},{"stack":"v","groupby":["d"],"sort":[{"field":"cls","order":"ascending"}],"as":["r0","r1"]}],
    "mark":{"type":"arc","stroke":"#1a1a1a","strokeWidth":0.6,"thetaOffset":-0.0628,"theta2Offset":0.0628,"xOffset":-66.25,"yOffset":3},
    "encoding":{"theta":{"field":"d","type":"quantitative","stack":null,"scale":{"type":"linear","domain":[0,360],"range":[0,6.283185307179586]}},"theta2":{"field":"d"},"radius":{"field":"r1","type":"quantitative","stack":null,"scale":{"type":"linear","domain":[0,6],"range":[23.3,186.7],"zero":false}},"radius2":{"field":"r0"},
     "color":{"field":"cls","type":"nominal","legend":null,"scale":{"domain":["c0","c1","c2","c3","c4","c5"],"range":["#0000ff","#0052a8","#00a050","#00ff00","#5cff1a","#aaf500"]}}}},
   {"data":{"name":"calm"},"transform":[{"filter":"datum.p == 4"}],"mark":{"type":"arc","filled":true,"fill":"#87ceeb","fillOpacity":1,"stroke":"#2c4a6e","strokeWidth":0.6,"xOffset":-66.25,"yOffset":3},
    "encoding":{"theta":{"datum":0,"type":"quantitative","scale":{"type":"linear","domain":[0,360],"range":[0,6.283185307179586]}},"theta2":{"datum":360},"radius":{"datum":0,"type":"quantitative","scale":{"type":"linear","domain":[0,6],"range":[23.3,186.7],"zero":false}},"radius2":{"value":0}}},
   {"data":{"name":"calm"},"transform":[{"filter":"datum.p == 4"}],"mark":{"type":"text","fontSize":13,"fontWeight":"bold","color":"#5c6b7a","xOffset":-66.25,"yOffset":3},"encoding":{"text":{"field":"t","type":"nominal"}}},
   {"data":{"name":"compass"},"mark":{"type":"text","fontSize":21,"fontWeight":"bold","color":"#5e5e5e","xOffset":-66.25,"yOffset":3},
    "encoding":{"theta":{"field":"a","type":"quantitative","stack":null,"scale":{"type":"linear","domain":[0,360],"range":[0,6.283185307179586]}},"radius":{"datum":6.58,"type":"quantitative","scale":{"type":"linear","domain":[0,6],"range":[23.3,186.7],"zero":false}},"text":{"field":"t","type":"nominal"}}},
   {"data":{"name":"legend"},"transform":[{"filter":"datum.p == 4"}],"mark":{"type":"rect","stroke":"#1a1a1a","strokeWidth":0.8},
    "encoding":{"x":{"datum":"key","type":"nominal","axis":null,"scale":{"type":"band","domain":["key"],"range":[478.2,489.8],"paddingInner":0,"paddingOuter":0}},"y":{"field":"lo","type":"quantitative","axis":null,"scale":{"domain":[0,15.4],"range":[415.5,115.5],"zero":false}},"y2":{"field":"hi"},
     "color":{"field":"cls","type":"nominal","legend":null,"scale":{"domain":["c0","c1","c2","c3","c4","c5"],"range":["#0000ff","#0052a8","#00a050","#00ff00","#5cff1a","#aaf500"]}}}},
   {"data":{"name":"ticks"},"transform":[{"filter":"datum.p == 4"}],"mark":{"type":"text","align":"right","fontSize":13.5,"fontWeight":"bold","color":"#3a3a3a","dx":44.8},
    "encoding":{"x":{"datum":"key","type":"nominal","axis":null,"scale":{"type":"band","domain":["key"],"range":[478.2,489.8],"paddingInner":0,"paddingOuter":0}},"y":{"field":"v","type":"quantitative","axis":null,"scale":{"domain":[0,15.4],"range":[415.5,115.5],"zero":false}},"text":{"field":"v","type":"quantitative","format":".2f"}}},
   {"data":{"name":"ticks"},"transform":[{"filter":"datum.p == 4"}],"mark":{"type":"text","align":"left","fontSize":13.5,"color":"#5a5a5a","dx":52.5},
    "encoding":{"x":{"datum":"key","type":"nominal","axis":null,"scale":{"type":"band","domain":["key"],"range":[478.2,489.8],"paddingInner":0,"paddingOuter":0}},"y":{"field":"v","type":"quantitative","axis":null,"scale":{"domain":[0,15.4],"range":[415.5,115.5],"zero":false}},"text":{"field":"t","type":"nominal"}}},
   {"data":{"name":"calm"},"transform":[{"filter":"datum.p == 4"}],"mark":{"type":"text","align":"right","fontSize":13.5,"color":"#555555","dx":-9.2},
    "encoding":{"x":{"datum":"key","type":"nominal","axis":null,"scale":{"type":"band","domain":["key"],"range":[478.2,489.8],"paddingInner":0,"paddingOuter":0}},"y":{"datum":0,"type":"quantitative","axis":null,"scale":{"domain":[0,15.4],"range":[415.5,115.5],"zero":false}},"text":{"value":"Calm->"}}},
   {"data":{"name":"calm"},"transform":[{"filter":"datum.p == 4"}],"mark":{"type":"text","align":"center","fontSize":16.5,"color":"#666666","lineHeight":21.5,"dx":44,"dy":-41},
    "encoding":{"x":{"datum":"key","type":"nominal","axis":null,"scale":{"type":"band","domain":["key"],"range":[478.2,489.8],"paddingInner":0,"paddingOuter":0}},"y":{"datum":15.4,"type":"quantitative","axis":null,"scale":{"domain":[0,15.4],"range":[415.5,115.5],"zero":false}},"text":{"value":["Wind Speed","(m/s)"]}}}
  ]}
]
}
